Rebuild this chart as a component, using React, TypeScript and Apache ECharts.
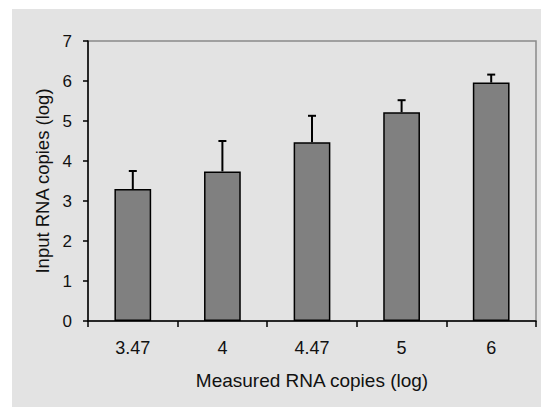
import React, { useEffect, useRef } from "react";
import * as echarts from "echarts";

const categories = ["3.47", "4", "4.47", "5", "6"];
const means = [3.3, 3.74, 4.47, 5.22, 5.96];
const errors = [0.45, 0.76, 0.66, 0.3, 0.2];
const yTicks = { min: 0, max: 7, interval: 1 };

const FONT = "'Liberation Sans', Arial, sans-serif";

export default function App() {
  const ref = useRef<HTMLDivElement>(null);
  useEffect(() => {
    if (!ref.current) return;
    const chart = echarts.init(ref.current, null, { renderer: "svg" });
    chart.setOption({
      animation: false,
      backgroundColor: "#e3e3e3",
      textStyle: { fontFamily: FONT },
      grid: {
        left: 76,
        top: 32,
        right: 5,
        bottom: 86,
        show: true,
        borderColor: "#8a8a8a",
        borderWidth: 1.5,
        backgroundColor: "transparent",
      },
      xAxis: {
        type: "category",
        data: categories,
        boundaryGap: true,
        name: "Measured RNA copies (log)",
        nameLocation: "middle",
        nameGap: 50,
        nameTextStyle: { fontSize: 19, color: "#111", fontFamily: FONT },
        axisLine: { lineStyle: { color: "#000", width: 1.5 } },
        axisTick: { show: true, length: 6, alignWithLabel: false, lineStyle: { color: "#000", width: 1.5 } },
        axisLabel: { fontSize: 18, color: "#111", margin: 18, fontFamily: FONT },
        splitLine: { show: false },
      },
      yAxis: {
        type: "value",
        min: yTicks.min,
        max: yTicks.max,
        interval: yTicks.interval,
        name: "Input RNA copies (log)",
        nameLocation: "middle",
        nameGap: 33,
        nameTextStyle: { fontSize: 18.5, color: "#111", fontFamily: FONT },
        axisLine: { show: true, lineStyle: { color: "#000", width: 1.5 } },
        axisTick: { show: true, length: 5, lineStyle: { color: "#000", width: 1.5 } },
        axisLabel: { fontSize: 17, color: "#111", margin: 16, fontFamily: FONT },
        splitLine: { show: false },
      },
      series: [
        {
          type: "bar",
          data: means,
          barWidth: "41%",
          itemStyle: { color: "#808080", borderColor: "#000", borderWidth: 1.5 },
          z: 2,
        },
        {
          type: "custom",
          data: means.map((m, i) => [i, m, m + errors[i]]),
          z: 3,
          renderItem: (params: any, api: any) => {
            const i = api.value(0);
            const lo = api.coord([i, api.value(1)]);
            const hi = api.coord([i, api.value(2)]);
            const half = 4;
            return {
              type: "group",
              children: [
                {
                  type: "line",
                  shape: { x1: lo[0], y1: lo[1], x2: hi[0], y2: hi[1] },
                  style: { stroke: "#000", lineWidth: 2 },
                },
                {
                  type: "line",
                  shape: { x1: hi[0] - half, y1: hi[1], x2: hi[0] + half, y2: hi[1] },
                  style: { stroke: "#000", lineWidth: 2 },
                },
              ],
            };
          },
        },
      ],
    });
    return () => chart.dispose();
  }, []);
  return (
    <div style={{ position: "absolute", left: 0, top: 0, width: 541, height: 407, background: "#fff" }}>
      <div
        ref={ref}
        style={{ position: "absolute", left: 12, top: 9, width: 529, height: 398 }}
      />
    </div>
  );
}
